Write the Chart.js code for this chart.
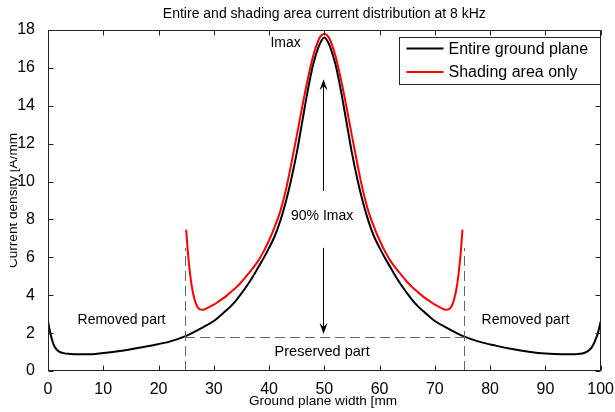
<!DOCTYPE html>
<html>
<head>
<meta charset="utf-8">
<script src="https://cdn.jsdelivr.net/npm/chart.js@4/dist/chart.umd.min.js"></script>
<style>
  html, body { margin: 0; padding: 0; background: #fff; }
  #wrap { width: 615px; height: 412px; }
</style>
</head>
<body>
<div id="wrap"><canvas id="myChart" width="615" height="412"></canvas></div>
<script>
'use strict';

// curve data
let blackX = [0, 0.5, 1, 1.5, 2, 3, 4, 5, 7, 10, 13, 16, 19, 22, 25, 28, 30, 31, 32, 33, 34, 35, 36, 37, 38, 39, 40, 41, 42, 43, 44, 45, 46, 47, 48, 49, 49.5, 50,
  50.5, 51, 52, 53, 54, 55, 56, 57, 58, 59, 60, 61, 62, 63, 64, 65, 66, 67, 68, 69, 70, 72, 75, 78, 81, 84, 87, 90, 93, 95, 96, 97, 98, 98.5, 99, 99.5, 100];
let blackY = [2.6, 1.9, 1.4, 1.15, 1.02, 0.93, 0.9, 0.88, 0.88, 0.95, 1.05, 1.2, 1.36, 1.55, 1.85, 2.3, 2.64, 2.88, 3.14, 3.4, 3.72, 4.1, 4.5, 4.95, 5.45, 5.95, 6.5, 7.1, 7.9, 8.9, 10.1, 11.5, 13.15, 14.8, 16.2, 17.15, 17.45, 17.6,
  17.45, 17.15, 16.2, 14.8, 13.15, 11.5, 10.1, 8.9, 7.9, 7.1, 6.5, 5.95, 5.45, 4.95, 4.5, 4.1, 3.72, 3.4, 3.14, 2.88, 2.64, 2.3, 1.85, 1.55, 1.34, 1.16, 1.02, 0.92, 0.88, 0.88, 0.9, 0.95, 1.12, 1.3, 1.6, 2.0, 2.6];

let redX = [25, 25.3, 25.6, 26, 26.5, 27, 27.5, 28, 29, 30, 31, 32, 33, 34, 35, 36, 37, 38, 39, 40, 41, 42, 43, 44, 45, 46, 47, 48, 49, 49.5, 50,
  50.5, 51, 52, 53, 54, 55, 56, 57, 58, 59, 60, 61, 62, 63, 64, 65, 66, 67, 68, 69, 70, 71, 72, 72.5, 73, 73.5, 74, 74.4, 74.7, 75];
let redY = [7.46, 6.3, 5.4, 4.5, 3.8, 3.4, 3.25, 3.23, 3.35, 3.5, 3.7, 3.9, 4.15, 4.4, 4.7, 5.05, 5.4, 5.8, 6.3, 6.9, 7.6, 8.4, 9.5, 10.9, 12.4, 13.95, 15.4, 16.65, 17.5, 17.72, 17.8,
  17.72, 17.5, 16.65, 15.4, 13.95, 12.4, 10.9, 9.5, 8.4, 7.6, 6.9, 6.3, 5.8, 5.4, 5.05, 4.7, 4.4, 4.15, 3.9, 3.7, 3.5, 3.35, 3.23, 3.25, 3.4, 3.8, 4.5, 5.4, 6.3, 7.46];

let xTicks = [0, 10, 20, 30, 40, 50, 60, 70, 80, 90, 100];
let yTicks = [0, 2, 4, 6, 8, 10, 12, 14, 16, 18];

// cut lines and arrow levels
let cutX = [24.8, 75.2];
let cutTop = 6.5;
let preservedLevel = 1.78;
let arrowX = 49.7;
let upArrow = [9.5, 15.4];
let downArrow = [6.5, 1.95];

function toPoints(xs, ys) {
  let pts = [];
  for (let i = 0; i < xs.length; i++) {
    pts.push({ x: xs[i], y: ys[i] });
  }
  return pts;
}

function arrowHead(ctx, px, py, dir) {
  // dir: 1 = pointing down, -1 = pointing up
  ctx.beginPath();
  ctx.moveTo(px, py);
  ctx.lineTo(px - 4, py - dir * 11);
  ctx.lineTo(px, py - dir * 7);
  ctx.lineTo(px + 4, py - dir * 11);
  ctx.closePath();
  ctx.fill();
}

let overlay = {
  id: 'overlay',
  afterDraw(chart) {
    let ctx = chart.ctx;
    let a = chart.chartArea;
    let sx = chart.scales.x;
    let sy = chart.scales.y;
    ctx.save();

    // dashed cut lines
    ctx.strokeStyle = '#666';
    ctx.lineWidth = 1;
    ctx.setLineDash([10, 5]);
    cutX.forEach(function (v) {
      let px = Math.round(sx.getPixelForValue(v)) + 0.5;
      ctx.beginPath();
      ctx.moveTo(px, sy.getPixelForValue(0));
      ctx.lineTo(px, sy.getPixelForValue(cutTop));
      ctx.stroke();
    });
    let hy = Math.round(sy.getPixelForValue(preservedLevel)) + 0.5;
    ctx.beginPath();
    ctx.moveTo(sx.getPixelForValue(cutX[0]), hy);
    ctx.lineTo(sx.getPixelForValue(cutX[1]), hy);
    ctx.stroke();
    ctx.setLineDash([]);

    // arrows
    let ax = Math.round(sx.getPixelForValue(arrowX)) + 0.5;
    ctx.strokeStyle = '#000';
    ctx.fillStyle = '#000';
    ctx.beginPath();
    ctx.moveTo(ax, sy.getPixelForValue(upArrow[0]));
    ctx.lineTo(ax, sy.getPixelForValue(upArrow[1]) + 6);
    ctx.stroke();
    arrowHead(ctx, ax, sy.getPixelForValue(upArrow[1]), -1);
    ctx.beginPath();
    ctx.moveTo(ax, sy.getPixelForValue(downArrow[0]));
    ctx.lineTo(ax, sy.getPixelForValue(downArrow[1]) - 6);
    ctx.stroke();
    arrowHead(ctx, ax, sy.getPixelForValue(downArrow[1]), 1);

    // text labels
    ctx.fillStyle = '#000';
    ctx.font = '14px "Liberation Sans", Arial, sans-serif';
    ctx.textAlign = 'center';
    ctx.textBaseline = 'middle';
    ctx.fillText('Imax', sx.getPixelForValue(43.0), sy.getPixelForValue(17.3));
    ctx.fillText('90% Imax', sx.getPixelForValue(49.6), sy.getPixelForValue(8.15));
    ctx.fillText('Removed part', sx.getPixelForValue(13.3), sy.getPixelForValue(2.7));
    ctx.fillText('Removed part', sx.getPixelForValue(86.4), sy.getPixelForValue(2.7));
    ctx.font = '14.5px "Liberation Sans", Arial, sans-serif';
    ctx.fillText('Preserved part', sx.getPixelForValue(49.6), sy.getPixelForValue(1.0));

    // axes box and inward ticks
    let L = Math.round(a.left) + 0.5, R = Math.round(a.right) - 0.5;
    let T = Math.round(a.top) + 0.5, B = Math.round(a.bottom) - 0.5;
    ctx.strokeStyle = '#222';
    ctx.lineWidth = 1;
    ctx.strokeRect(L, T, R - L, B - T);
    ctx.beginPath();
    xTicks.forEach(function (v) {
      let px = Math.round(sx.getPixelForValue(v)) + 0.5;
      ctx.moveTo(px, B); ctx.lineTo(px, B - 5);
      ctx.moveTo(px, T); ctx.lineTo(px, T + 5);
    });
    yTicks.forEach(function (v) {
      let py = Math.round(sy.getPixelForValue(v)) + 0.5;
      ctx.moveTo(L, py); ctx.lineTo(L + 5, py);
      ctx.moveTo(R, py); ctx.lineTo(R - 5, py);
    });
    ctx.stroke();

    // legend box
    let lx = 399.5, ly = 37.5, lw = 201, lh = 47;
    ctx.fillStyle = '#fff';
    ctx.fillRect(lx, ly, lw, lh);
    ctx.strokeStyle = '#222';
    ctx.strokeRect(lx, ly, lw, lh);
    ctx.font = '16px "Liberation Sans", Arial, sans-serif';
    ctx.textAlign = 'left';
    chart.data.datasets.forEach(function (ds, i) {
      let yy = ly + 11 + i * 23.5;
      ctx.strokeStyle = ds.borderColor;
      ctx.lineWidth = 2;
      ctx.beginPath();
      ctx.moveTo(lx + 7, yy);
      ctx.lineTo(lx + 44, yy);
      ctx.stroke();
      ctx.fillStyle = '#000';
      ctx.fillText(ds.label, lx + 49, yy + 1);
    });

    // title
    ctx.font = '14px "Liberation Sans", Arial, sans-serif';
    ctx.textAlign = 'center';
    ctx.fillText('Entire and shading area current distribution at 8 kHz', (a.left + a.right) / 2, 14);

    // x axis title
    ctx.font = '13.6px "Liberation Sans", Arial, sans-serif';
    ctx.fillText('Ground plane width [mm', 323, 401);

    // y axis title, cut at the left like the source
    ctx.beginPath();
    ctx.rect(10, 0, 40, 412);
    ctx.clip();
    ctx.translate(17, (a.top + a.bottom) / 2);
    ctx.rotate(-Math.PI / 2);
    ctx.textBaseline = 'alphabetic';
    ctx.fillText('Current density [A/mm', 0, 0);
    ctx.restore();
  }
};

let ctx = document.getElementById('myChart').getContext('2d');
let myChart = new Chart(ctx, {
  type: 'line',
  data: {
    datasets: [{
      label: 'Entire ground plane',
      data: toPoints(blackX, blackY),
      borderColor: '#000000',
      borderWidth: 2,
      pointRadius: 0,
      cubicInterpolationMode: 'monotone',
      fill: false
    }, {
      label: 'Shading area only',
      data: toPoints(redX, redY),
      borderColor: '#ff0000',
      borderWidth: 2,
      pointRadius: 0,
      cubicInterpolationMode: 'monotone',
      fill: false
    }]
  },
  options: {
    responsive: false,
    animation: false,
    layout: { padding: { left: 0, right: 13, top: 30, bottom: 0 } },
    plugins: {
      legend: { display: false },
      title: { display: false },
      tooltip: { enabled: false }
    },
    scales: {
      x: {
        type: 'linear',
        min: 0,
        max: 100,
        afterFit: function (s) { s.height = 41; },
        afterBuildTicks: function (s) { s.ticks = xTicks.map(function (v) { return { value: v }; }); },
        grid: { display: false },
        border: { display: false },
        ticks: { color: '#000', padding: 1, maxRotation: 0, font: { size: 16, family: '"Liberation Sans", Arial, sans-serif' } }
      },
      y: {
        type: 'linear',
        min: 0,
        max: 18,
        afterFit: function (s) { s.width = 48; },
        afterBuildTicks: function (s) { s.ticks = yTicks.map(function (v) { return { value: v }; }); },
        grid: { display: false },
        border: { display: false },
        ticks: { color: '#000', padding: 5, font: { size: 16, family: '"Liberation Sans", Arial, sans-serif' } }
      }
    }
  },
  plugins: [overlay]
});
</script>
</body>
</html>
